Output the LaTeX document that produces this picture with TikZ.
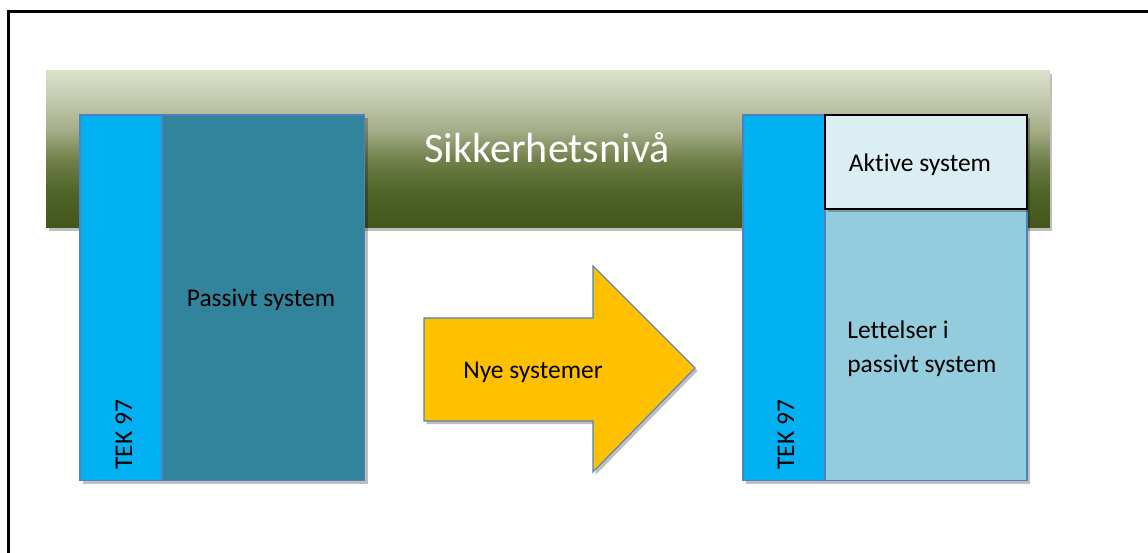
\documentclass[tikz,border=0pt]{standalone}
\usepackage{fontspec}
\setmainfont{Carlito}[Ligatures=NoCommon]
\usetikzlibrary{positioning, shadows}
\definecolor{TEKBlue}{HTML}{00B0F0}
\definecolor{PassTeal}{HTML}{31849B}
\definecolor{AktivFill}{HTML}{DBEEF4}
\definecolor{LettFill}{HTML}{93CDDD}
\definecolor{ArrowGold}{HTML}{FFC000}
\definecolor{EdgeBlue}{HTML}{4F81BD}
\definecolor{BandA}{HTML}{43561B}
\definecolor{BandB}{HTML}{506528}
\definecolor{BandC}{HTML}{6F7F48}
\definecolor{BandD}{HTML}{A4AC88}
\definecolor{BandE}{HTML}{C3CAAE}
\definecolor{BandF}{HTML}{D9E1C9}
\pgfdeclareverticalshading{bandshade}{100bp}{color(0bp)=(BandA); color(25bp)=(BandA);
  color(37bp)=(BandB); color(46.5bp)=(BandC); color(56bp)=(BandD);
  color(66bp)=(BandE); color(75bp)=(BandF); color(100bp)=(BandF)}

\begin{document}
\begin{tikzpicture}[x=0.02cm, y=-0.02cm,
        box/.style={draw=EdgeBlue, line width=0.6pt, anchor=north west,
                    inner sep=0pt, outer sep=0pt,
                    drop shadow={shadow xshift=0.06cm, shadow yshift=-0.07cm,
                                 opacity=0.25, fill=black}},
        lbl/.style={font=\fontsize{14.5}{19.3}\selectfont, inner sep=0pt},
        tek/.style={lbl, rotate=90, anchor=base west}
      ]
        \useasboundingbox (0,0) rectangle (1148,553);
        \draw[line width=1.4pt] (8.5,553) -- (8.5,11.5) -- (1148,11.5);

        % safety level band
        \node[anchor=north west, inner sep=0pt, outer sep=0pt, shading=bandshade,
              minimum width=20.08cm, minimum height=3.14cm,
              drop shadow={shadow xshift=0.05cm, shadow yshift=-0.07cm,
                           opacity=0.25, fill=black}] (band) at (46,71) {};
        \node[lbl, white, font=\fontsize{24}{28}\selectfont, anchor=base]
          (level) at (547,163) {Sikkerhetsnivå};

        % before
        \node[box, fill=TEKBlue, minimum width=1.64cm, minimum height=7.32cm]
          (tekL) at (80,115) {};
        \node[box, fill=PassTeal, minimum width=4.06cm, minimum height=7.32cm]
          (passive) at (162,115) {};
        \node[tek] (tekLtxt) at (132,470) {TEK 97};
        \node[lbl, anchor=base] (passivetxt) at (261,307) {Passivt system};

        % transition arrow
        \draw[draw=EdgeBlue, line width=0.6pt, fill=ArrowGold,
              drop shadow={shadow xshift=0.05cm, shadow yshift=-0.06cm,
                           opacity=0.25, fill=black}]
          (424,318) -- (593,318) -- (593,266) -- (695,368)
          -- (593,472) -- (593,421) -- (424,421) -- cycle;
        \node[lbl, anchor=base] (newtxt) at (533,378) {Nye systemer};

        % after
        \node[box, fill=TEKBlue, minimum width=1.64cm, minimum height=7.32cm]
          (tekR) at (743,115) {};
        \node[box, fill=LettFill, minimum width=4.04cm, minimum height=5.44cm]
          (relief) at (825,209) {};
        \node[box, draw=black, line width=1pt, fill=AktivFill,
              minimum width=4.04cm, minimum height=1.88cm]
          (active) at (825,115) {};
        \node[tek] (tekRtxt) at (794,470) {TEK 97};
        \node[lbl, anchor=base] (activetxt) at (920,172) {Aktive system};
        \node[lbl, anchor=west, align=left] (relieftxt) at (847,349)
          {Lettelser i\\passivt system};
      \end{tikzpicture}
\end{document}
